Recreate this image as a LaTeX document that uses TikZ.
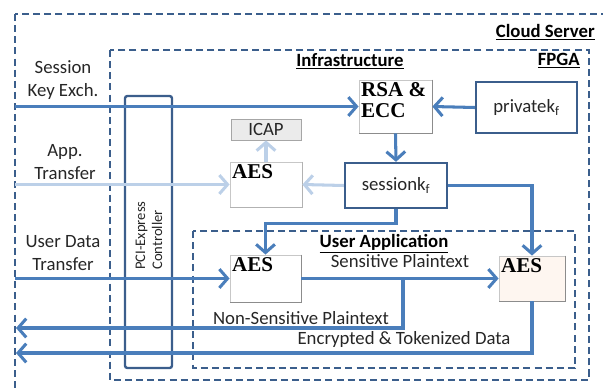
\documentclass[tikz,border=0pt]{standalone}
\usepackage{fontspec}
\setmainfont{Carlito}
\newfontfamily\boxserif{Liberation Serif}
\usetikzlibrary{arrows.meta}
\definecolor{linkblue}{HTML}{4A7EBB}
\definecolor{dashblue}{HTML}{3B5E8C}
\definecolor{paleblue}{HTML}{BCD0E8}
\definecolor{peach}{HTML}{FEF6F0}
\tikzset{
	link/.style={line width=2.6pt, color=linkblue, -{Straight Barb[length=7pt,width=16pt]}},
	plainlink/.style={line width=2.6pt, color=linkblue},
	palelink/.style={line width=2.6pt, color=paleblue, -{Straight Barb[length=7pt,width=16pt]}},
	region/.style={line width=1.6pt, color=dashblue, dash pattern=on 6pt off 3.5pt},
	keybox/.style={draw=dashblue, line width=2pt, fill=white},
	unitbox/.style={draw=black!22, line width=0.7pt, fill=white},
	lbl/.style={font=\fontsize{16}{19}\selectfont, text=black!85, align=center, inner sep=0pt},
	title/.style={font=\fontsize{16}{19}\selectfont\bfseries, text=black, inner sep=0pt},
	unitlbl/.style={font=\boxserif\fontsize{18}{21}\selectfont\bfseries, align=left, inner sep=2pt, anchor=north west}
}
\def\unitshadow(#1){\draw[black!45, line width=1pt] (#1.north east) -- (#1.south east) -- (#1.south west);}

\begin{document}
\begin{tikzpicture}[x=0.03cm, y=-0.03cm]
		%%%%% START %%%%%
		\useasboundingbox (0, 0) rectangle (603, 392);
		\clip (0, 0) rectangle (603, 392);
		
		% regions
		\draw[region] (15, 14) rectangle (640, 420);
		\draw[region] (110, 50) rectangle (589, 380);
		\draw[region] (193, 231) rectangle (575, 368);
		
		\node[title, anchor=east] (cloud) at (595, 32) {\underline{Cloud Server}};
		\node[title] (infra) at (350, 61) {\underline{Infrastructure}};
		\node[title, anchor=east] (fpga) at (580, 61) {\underline{FPGA}};
		\node[title] (userapp) at (384, 244) {\underline{User Application}};
		
		% pci express
		\node[draw=dashblue, line width=2pt, rounded corners=2pt, minimum width=1.41cm, minimum height=8.16cm] (pci) at (148.5, 232) {};
		\node[font=\fontsize{12.5}{14.5}\selectfont, text=black!85, rotate=90, align=left, anchor=west, inner sep=0pt] (pcitxt) at (149, 270) {PCI-Express\\Controller};
		
		% units
		\node[unitbox, minimum width=2.19cm, minimum height=1.59cm] (rsa) at (395.5, 106.5) {};
		\unitshadow(rsa)
		\node[unitlbl] (rsatxt) at (rsa.north west) {RSA \&\\[-3pt]ECC};
		
		\node[keybox, minimum width=3.03cm, minimum height=1.53cm] (priv) at (526.5, 107.5) {};
		\node[lbl] (privtxt) at (priv) {privatek\textsubscript{f}};
		
		\node[keybox, minimum width=3.06cm, minimum height=1.35cm] (sess) at (396, 185.5) {};
		\node[lbl] (sesstxt) at (sess) {sessionk\textsubscript{f}};
		
		\node[draw=black!35, line width=0.7pt, fill=black!8, minimum width=2.1cm, minimum height=0.63cm] (icap) at (266, 129.5) {};
		\node[lbl] (icaptxt) at (icap) {ICAP};
		
		\node[unitbox, minimum width=2.16cm, minimum height=1.35cm] (aesm) at (266, 184.5) {};
		\draw[black!30, line width=0.8pt] (aesm.north east) -- (aesm.south east) -- (aesm.south west);
		\node[unitlbl] (aesmtxt) at (aesm.north west) {AES};
		
		\node[unitbox, minimum width=2.13cm, minimum height=1.41cm] (aesa) at (265.5, 278.5) {};
		\unitshadow(aesa)
		\node[unitlbl] (aesatxt) at (aesa.north west) {AES};
		
		\node[unitbox, fill=peach, minimum width=1.98cm, minimum height=1.35cm] (aesb) at (532, 278.5) {};
		\unitshadow(aesb)
		\node[unitlbl] (aesbtxt) at (aesb.north west) {AES};
		
		% inputs
		\coordinate (skin) at (15, 107);
		\coordinate (appin) at (15, 185);
		\coordinate (udin) at (15, 279);
		\coordinate (nsout) at (16, 328);
		\coordinate (encout) at (16, 353);
		\coordinate (split) at (403, 278.5);
		
		\node[lbl] (sklbl) at (63, 80) {Session\\Key Exch.};
		\node[lbl] (applbl) at (65, 162) {App.\\Transfer};
		\node[lbl] (udlbl) at (63, 253) {User Data\\Transfer};
		
		\draw[link] (skin |- rsa.west) -- (rsa.west);
		\draw[link] (priv.west) -- (rsa.east);
		\draw[link] (rsa.south) -- (sess.north);
		
		\draw[palelink] (appin |- aesm.west) -- (aesm.west);
		\draw[palelink] (sess.west) -- (aesm.east);
		\draw[palelink] (aesm.north) -- (icap.south);
		
		\draw[link] (sess.east) -| (aesb.north);
		\draw[link] (sess.south) -- ++(0, 14) -| (aesa.north);
		
		\draw[link] (udin |- aesa.west) -- (aesa.west);
		\draw[link] (aesa.east) -- node[lbl, above=8pt] (senslbl) {Sensitive Plaintext} (aesb.west);
		\draw[link] (split) |- (nsout);
		\draw[link] (aesb.south) |- (encout);
		
		\node[lbl] (nslbl) at (301, 318) {Non-Sensitive Plaintext};
		\node[lbl] (enclbl) at (404, 340) {Encrypted \& Tokenized Data};
		
		%%%%% END %%%%%
	\end{tikzpicture}
\end{document}
